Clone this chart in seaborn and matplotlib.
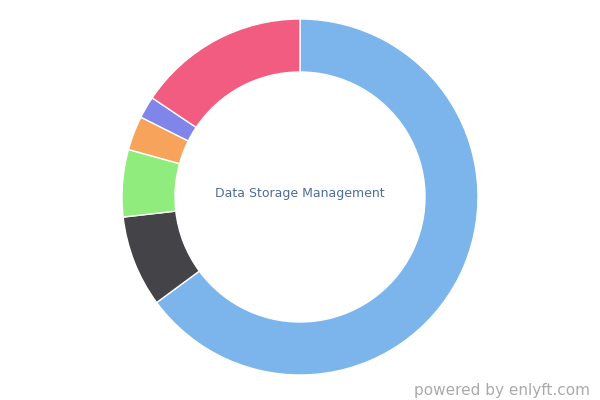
import matplotlib
matplotlib.use("Agg")
import matplotlib.pyplot as plt
import seaborn as sns

# slice shares (percent), clockwise from 12 o'clock
segments = ["Data Storage Management", "Other 1", "Other 2", "Other 3", "Other 4", "Other 5"]
shares = [64.9, 8.3, 6.1, 3.1, 2.0, 15.6]
colors = ["#7cb5ec", "#434348", "#90ed7d", "#f7a35c", "#8085e9", "#f15c80"]

sns.set_theme(style="white")
plt.rcParams['font.family'] = ['DejaVu Sans']

fig = plt.figure(figsize=(6, 4), dpi=100)
ax = fig.add_axes([0, 0, 1, 1])
ax.pie(shares, colors=colors, startangle=90, counterclock=False,
       center=(300, 203), radius=178,
       wedgeprops=dict(width=53, edgecolor="white", linewidth=1))
ax.set_xlim(0, 600)
ax.set_ylim(0, 400)
ax.set_aspect("equal")
ax.axis("off")

ax.text(300, 207, "Data Storage Management", ha="center", va="center",
        fontsize=9, color="#4d6d9c")
ax.text(590, 10, "powered by enlyft.com", ha="right", va="center",
        fontsize=11, color="#aaaaaa")

fig.savefig("out.png", dpi=100)
